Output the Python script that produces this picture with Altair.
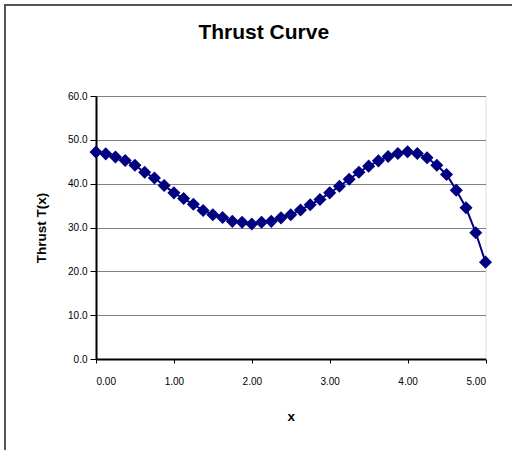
import altair as alt
import pandas as pd

x_vals = [0.0, 0.125, 0.25, 0.375, 0.5, 0.625, 0.75, 0.875,
          1.0, 1.125, 1.25, 1.375, 1.5, 1.625, 1.75, 1.875,
          2.0, 2.125, 2.25, 2.375, 2.5, 2.625, 2.75, 2.875,
          3.0, 3.125, 3.25, 3.375, 3.5, 3.625, 3.75, 3.875,
          4.0, 4.125, 4.25, 4.375, 4.5, 4.625, 4.75, 4.875, 5.0]
thrust = [47.2, 46.8, 46.1, 45.3, 44.2, 42.6, 41.3, 39.6,
          37.9, 36.6, 35.3, 33.9, 32.9, 32.3, 31.4, 31.2,
          30.8, 31.2, 31.4, 32.2, 32.9, 34.0, 35.2, 36.4,
          37.9, 39.4, 41.0, 42.6, 44.0, 45.2, 46.2, 46.9,
          47.3, 46.9, 45.9, 44.2, 42.1, 38.5, 34.5, 28.8, 22.1]

x_ticks = [0, 1, 2, 3, 4, 5]
y_ticks = [0, 10, 20, 30, 40, 50, 60]

df = pd.DataFrame({"x": x_vals, "T": thrust})

FONT = "Liberation Sans"
NAVY = "#000080"
W, H = 389.5, 263

xenc = alt.X("x:Q", scale=alt.Scale(domain=[0, 5], nice=False),
             axis=alt.Axis(values=x_ticks, format=".2f", title="x",
                           grid=False, domain=True, domainColor="black", domainWidth=2,
                           tickColor="black", tickSize=4, labelPadding=13,
                           labelFontSize=10, labelColor="black", labelFont=FONT,
                           titleFont=FONT, titleFontSize=13.5, titleFontWeight="bold",
                           titleColor="black", titleY=57, titleBaseline="middle"))
yenc = alt.Y("T:Q", scale=alt.Scale(domain=[0, 60], nice=False),
             axis=alt.Axis(values=y_ticks, format=".1f", title="Thrust T(x)",
                           grid=True, gridColor="#808080", gridWidth=1,
                           domain=True, domainColor="black", domainWidth=2,
                           tickColor="black", tickSize=6, labelPadding=3,
                           labelFontSize=10, labelColor="black", labelFont=FONT,
                           titleFont=FONT, titleFontSize=13.5, titleFontWeight="bold",
                           titleColor="black", titleX=-55, titleY=H / 2,
                           titleAngle=-90, titleAlign="center", titleBaseline="middle"))

line = alt.Chart(df).mark_line(color=NAVY, strokeWidth=2).encode(x=xenc, y=yenc)
pts = alt.Chart(df).mark_point(shape="diamond", filled=True, color=NAVY,
                               size=170, opacity=1).encode(x="x:Q", y="T:Q")

frame = alt.Chart(df).mark_rect(fill=None, stroke="#555555", strokeWidth=1.5,
                                clip=False).encode(
    x=alt.value(-91), y=alt.value(-91), x2=alt.value(W + 40), y2=alt.value(H + 110))

chart = alt.layer(frame, line, pts).properties(
    width=W, height=H,
    autosize=alt.AutoSizeParams(type="none"),
    padding={"left": 96, "top": 96, "right": 26.5, "bottom": 91},
    title=alt.TitleParams("Thrust Curve", font=FONT, fontSize=21, fontWeight="bold",
                          color="black", anchor="middle", offset=-60, dx=-27,
                          baseline="bottom"),
).configure_view(stroke="black", strokeWidth=2).configure(background="white")

chart.save("out.html", embed_options={"renderer": "svg", "actions": False})
